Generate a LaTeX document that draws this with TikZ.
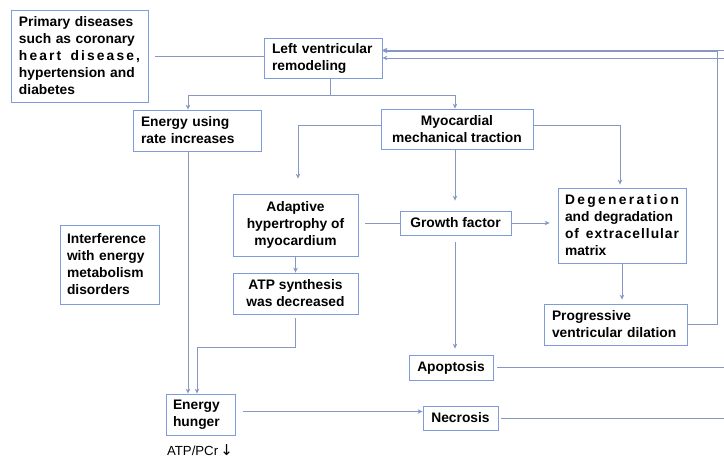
\documentclass[tikz,border=0pt]{standalone}
\usepackage{fontspec}
\setmainfont{Liberation Sans}
\newfontfamily\dejavu{DejaVu Sans}
\usetikzlibrary{arrows.meta}
\definecolor{boxc}{HTML}{7F9BD9}
\definecolor{linec}{HTML}{8597C2}
\newcommand{\spreadln}[2]{\makebox[#1][s]{#2}}
\begin{document}
\begin{tikzpicture}[x=1pt,y=-1pt,
  box/.style={draw=boxc, line width=0.8pt, fill=white, inner sep=0pt,
    font=\bfseries\fontsize{13.8}{17}\selectfont, align=center},
  lbox/.style={box, align=left},
  conn/.style={draw=linec, line width=1pt},
  arr/.style={conn, -{Stealth[length=5pt,width=4.5pt]}}]
\useasboundingbox (0,0) rectangle (724,458);
\fill[white] (0,0) rectangle (724,458);

\node[lbox, minimum width=137pt, minimum height=92pt, text width=121pt] (prim) at (79.5,56)
 {\spreadln{121pt}{Primary diseases}\\\spreadln{121pt}{such as coronary}\\
  \spreadln{121pt}{h\hfill e\hfill a\hfill r\hfill t\hfill\hspace{5pt}\hfill d\hfill i\hfill s\hfill e\hfill a\hfill s\hfill e\hfill ,}\\
  \spreadln{121pt}{hypertension and}\\diabetes};
\node[lbox, minimum width=118pt, minimum height=40pt, text width=102pt] (lvr) at (323,58)
 {Left ventricular\\remodeling};
\node[lbox, minimum width=128pt, minimum height=41pt, text width=112pt] (euse) at (197,130.5)
 {Energy using\\rate increases};
\node[box, minimum width=152pt, minimum height=40pt] (myo) at (457,129)
 {Myocardial\\mechanical traction};
\node[lbox, minimum width=99pt, minimum height=79pt, text width=85pt] (interf) at (109.5,264.5)
 {Interference\\with energy\\metabolism\\disorders};
\node[box, minimum width=125pt, minimum height=62pt] (adapt) at (295.5,225)
 {Adaptive\\hypertrophy of\\myocardium};
\node[box, minimum width=111pt, minimum height=24pt] (growth) at (455.5,223)
 {Growth factor};
\node[lbox, minimum width=128pt, minimum height=75pt, text width=114pt] (degen) at (622,225.5)
 {\spreadln{114pt}{D\hfill e\hfill g\hfill e\hfill n\hfill e\hfill r\hfill a\hfill t\hfill i\hfill o\hfill n}\\
  \spreadln{114pt}{and degradation}\\
  \spreadln{114pt}{o\hfill f\hfill\hspace{5pt}\hfill e\hfill x\hfill t\hfill r\hfill a\hfill c\hfill e\hfill l\hfill l\hfill u\hfill l\hfill a\hfill r}\\matrix};
\node[box, minimum width=125pt, minimum height=41pt] (atp) at (295.5,293.5)
 {ATP synthesis\\was decreased};
\node[lbox, minimum width=143pt, minimum height=41pt, text width=127pt] (prog) at (615.5,324.5)
 {Progressive\\ventricular dilation};
\node[box, minimum width=84pt, minimum height=25pt] (apop) at (451,367.5) {Apoptosis};
\node[lbox, minimum width=69pt, minimum height=41pt, text width=55pt] (hunger) at (200.5,414.5)
 {Energy\\hunger};
\node[box, minimum width=75pt, minimum height=24pt] (necro) at (460.5,418) {Necrosis};
\node[inner sep=0pt, font=\fontsize{13.2}{15}\selectfont] (atplab) at (200,450) {ATP/PCr\,{\dejavu\fontsize{15}{15}\selectfont ↓}};

\coordinate (rim) at (724,0);
\coordinate (e1) at (724,50);
\coordinate (e2) at (724,58);
\coordinate (j1) at (330,95);
\coordinate (rt) at (717,324.5);

% primary -> LVR
\draw[conn, shorten <=7pt] (prim.east) -- (prim.east -| lvr.west);
% LVR split
\draw[conn] ([xshift=7pt]lvr.south) -- (j1);
\draw[arr] (j1) -| ([xshift=-9pt]euse.north);
\draw[arr] (j1) -| ([xshift=-2pt]myo.north);
% energy using -> hunger
\draw[arr] ([xshift=-9pt]euse.south) -- ([xshift=-12.5pt]hunger.north);
% myocardial traction branches
\draw[arr, shorten >=15pt] ([yshift=4pt]myo.west) -| ([xshift=2.5pt]adapt.north);
\draw[arr, shorten >=10pt] ([xshift=-2pt]myo.south) -- ([xshift=-0.5pt]growth.north);
\draw[arr, shorten >=3pt] ([yshift=4pt]myo.east) -| ([xshift=-2pt]degen.north);
% adaptive -> growth
\draw[conn, shorten <=7pt] (adapt.east |- growth.west) -- (growth.west);
% growth -> degeneration
\draw[arr, shorten >=8pt] (growth.east) -- (growth.east -| degen.west);
% growth -> apoptosis
\draw[arr, shorten <=7pt, shorten >=6pt] ([xshift=-0.5pt]growth.south) -- ([xshift=4pt]apop.north);
% adaptive -> ATP
\draw[arr] (adapt.south) -- (atp.north);
% ATP -> hunger
\draw[arr, shorten <=4pt] (atp.south) -- ++(0,33) -| ([xshift=-3.5pt]hunger.north);
% degeneration -> progressive
\draw[arr, shorten >=4pt] (degen.south) -- (degen.south |- prog.north);
% progressive -> LVR
\draw[arr] (prog.east) -- (rt) |- ([yshift=7pt]lvr.east);
% feedback lines
\draw[arr] (e1) -- (e1 -| lvr.east);
\draw[arr] (e2) -- (lvr.east);
\draw[conn, shorten <=4pt] (apop.east) -- (apop.east -| rim);
\draw[conn, shorten <=3pt] (necro.east) -- (necro.east -| rim);
% hunger -> necrosis
\draw[arr, shorten <=8pt] ([yshift=3pt]hunger.east) -- ([yshift=3pt]hunger.east -| necro.west);
\end{tikzpicture}
\end{document}
